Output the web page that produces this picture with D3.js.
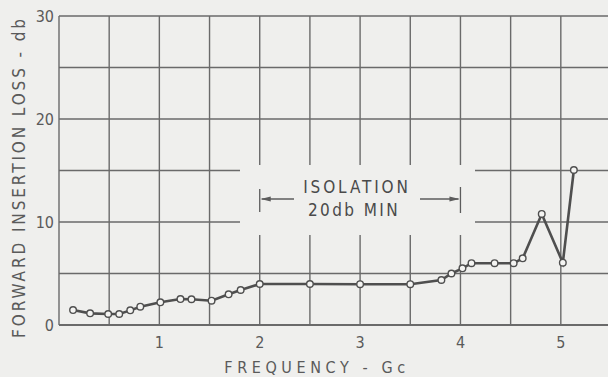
<!DOCTYPE html>
<html>
<head>
<meta charset="utf-8">
<script src="https://cdn.jsdelivr.net/npm/d3@7"></script>
<style>
  body { margin: 0; background: #efefed; }
  svg { display: block; }
  text { font-family: "DejaVu Sans", sans-serif; font-stretch: condensed; fill: #5a5a5a; }
</style>
</head>
<body>
<script>
// frequency (Gc) and forward insertion loss (db)
var freq = [0.14, 0.31, 0.49, 0.60, 0.71, 0.81, 1.01, 1.21, 1.32, 1.52, 1.69, 1.81, 2.0,
            2.5, 3.0, 3.5, 3.81, 3.91, 4.02, 4.11, 4.34, 4.53, 4.62, 4.81, 5.02, 5.13];
var loss = [1.45, 1.13, 1.07, 1.07, 1.42, 1.78, 2.2, 2.52, 2.5, 2.36, 2.98, 3.4, 3.98,
            3.98, 3.96, 3.96, 4.37, 5.0, 5.5, 6.0, 6.0, 6.0, 6.47, 10.78, 6.05, 15.05];
var xTicks = [1, 2, 3, 4, 5];
var yTicks = [0, 10, 20, 30];
var xGrid = d3.range(0, 5.51, 0.5);
var yGrid = d3.range(0, 30.1, 5);
var isolation = [2, 4];   // bracket limits, Gc

var width = 608, height = 377;

var x = d3.scaleLinear().domain([0, 5.5]).range([59, 611]);
var y = d3.scaleLinear().domain([0, 30]).range([325, 16]);

var svg = d3.select("body").append("svg")
    .attr("width", width)
    .attr("height", height);

var ink = "#5c5c5c";

// grid
svg.selectAll(".vg").data(xGrid).enter().append("line")
    .attr("x1", function(d) { return x(d); }).attr("x2", function(d) { return x(d); })
    .attr("y1", y(30)).attr("y2", y(0))
    .attr("stroke", "#6a6a6a").attr("stroke-width", 1.4);
svg.selectAll(".hg").data(yGrid).enter().append("line")
    .attr("x1", x(0)).attr("x2", width)
    .attr("y1", function(d) { return y(d); }).attr("y2", function(d) { return y(d); })
    .attr("stroke", "#6a6a6a").attr("stroke-width", function(d) { return d === 0 ? 2 : 1.4; });

// blank patch behind the annotation
svg.append("rect")
    .attr("x", 240).attr("y", 165)
    .attr("width", 235).attr("height", 70)
    .attr("fill", "#efefed");

// isolation bracket
var ab = 199;
svg.append("line").attr("x1", x(isolation[0])).attr("x2", x(isolation[0]))
    .attr("y1", 189).attr("y2", 212).attr("stroke", ink).attr("stroke-width", 1.3);
svg.append("line").attr("x1", x(isolation[1])).attr("x2", x(isolation[1]))
    .attr("y1", 187).attr("y2", 213).attr("stroke", ink).attr("stroke-width", 1.3);
svg.append("line").attr("x1", x(isolation[0]) + 2).attr("x2", 294)
    .attr("y1", ab).attr("y2", ab).attr("stroke", ink).attr("stroke-width", 1.3);
svg.append("line").attr("x1", 420).attr("x2", x(isolation[1]) - 2)
    .attr("y1", ab).attr("y2", ab).attr("stroke", ink).attr("stroke-width", 1.3);
var l = x(isolation[0]) + 1, r = x(isolation[1]) - 1;
svg.append("path")
    .attr("d", "M" + l + "," + ab + "L" + (l + 10) + "," + (ab - 2.5) + "L" + (l + 10) + "," + (ab + 2.5) + "Z")
    .attr("fill", ink);
svg.append("path")
    .attr("d", "M" + r + "," + ab + "L" + (r - 10) + "," + (ab - 2.5) + "L" + (r - 10) + "," + (ab + 2.5) + "Z")
    .attr("fill", ink);

svg.append("text").attr("x", 357).attr("y", 193)
    .attr("text-anchor", "middle").style("font-size", "17px").style("letter-spacing", "2.9px")
    .style("fill", "#4a4a4a").text("ISOLATION");
svg.append("text").attr("x", 354).attr("y", 216)
    .attr("text-anchor", "middle").style("font-size", "17px").style("letter-spacing", "2.4px")
    .style("fill", "#4a4a4a").text("20db MIN");

// data line and points
var line = d3.line()
    .x(function(d) { return x(d[0]); })
    .y(function(d) { return y(d[1]); });
var pts = d3.zip(freq, loss);
svg.append("path").datum(pts)
    .attr("d", line)
    .attr("fill", "none")
    .attr("stroke", "#4f4f4f")
    .attr("stroke-width", 2.6);
svg.selectAll(".pt").data(pts).enter().append("circle")
    .attr("cx", function(d) { return x(d[0]); })
    .attr("cy", function(d) { return y(d[1]); })
    .attr("r", 3.3)
    .attr("fill", "#f4f4f2")
    .attr("stroke", "#4f4f4f")
    .attr("stroke-width", 1.4);

// tick labels
svg.selectAll(".xt").data(xTicks).enter().append("text")
    .attr("x", function(d) { return x(d); }).attr("y", 348)
    .attr("text-anchor", "middle").style("font-size", "16px")
    .text(function(d) { return d; });
svg.selectAll(".yt").data(yTicks).enter().append("text")
    .attr("x", 54).attr("y", function(d) { return y(d) + 6; })
    .attr("text-anchor", "end").style("font-size", "16px")
    .text(function(d) { return d; });

// axis titles
svg.append("text").attr("x", 317).attr("y", 373)
    .attr("text-anchor", "middle").style("font-size", "16px").style("letter-spacing", "4.6px")
    .text("FREQUENCY - Gc");
svg.append("text")
    .attr("transform", "translate(25,177) rotate(-90)")
    .attr("text-anchor", "middle").style("font-size", "17px").style("letter-spacing", "2.9px")
    .text("FORWARD INSERTION LOSS - db");
</script>
</body>
</html>
